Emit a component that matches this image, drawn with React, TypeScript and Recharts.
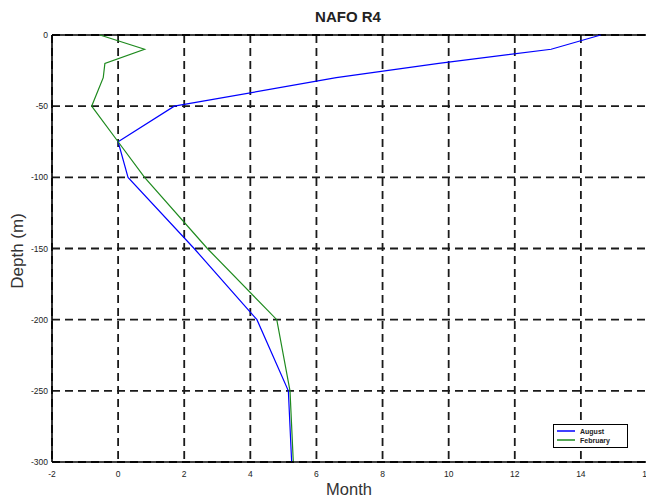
import React from 'react';
import { LineChart, Line, XAxis, YAxis, CartesianGrid, ReferenceLine } from 'recharts';

const depths = [0, -10, -20, -30, -50, -75, -100, -150, -200, -250, -300];
const august = [14.6, 13.1, 9.7, 6.6, 1.7, 0, 0.3, 2.3, 4.2, 5.15, 5.25];
const february = [-0.55, 0.8, -0.4, -0.45, -0.8, 0, 0.8, 2.7, 4.8, 5.2, 5.3];
const xTicks = [-2, 0, 2, 4, 6, 8, 10, 12, 14, 16];
const yTicks = [0, -50, -100, -150, -200, -250, -300];
const seriesNames = ['August', 'February'];
const seriesColors = ['#0000ff', '#1e8a1e'];

const data = depths.map((d, i) => ({ depth: d, August: august[i], February: february[i] }));

const font = 'Liberation Sans, Arial, sans-serif';

export default function App() {
  return (
    <div style={{ position: 'absolute', left: 0, top: 0, width: 646, height: 497, overflow: 'hidden', background: '#fff' }}>
      <LineChart
        width={652}
        height={497}
        data={data}
        layout="vertical"
        margin={{ top: 35, right: 5, bottom: 4, left: 0 }}
      >
        <CartesianGrid stroke="#1a1a1a" strokeDasharray="8 5" strokeWidth={1.8} />
        <XAxis
          type="number"
          domain={[-2, 16]}
          ticks={xTicks}
          interval={0}
          tickLine={false}
          tickSize={0}
          tickMargin={9}
          height={31}
          axisLine={{ stroke: '#000', strokeWidth: 1.6 }}
          tick={{ fontSize: 8.5, fill: '#222', fontFamily: font }}
        />
        <YAxis
          type="number"
          dataKey="depth"
          domain={[-300, 0]}
          reversed
          ticks={yTicks}
          interval={0}
          tickLine={false}
          tickSize={0}
          tickMargin={4}
          width={52}
          axisLine={{ stroke: '#000', strokeWidth: 1.6 }}
          tick={{ fontSize: 8.5, fill: '#222', fontFamily: font }}
        />
        <ReferenceLine y={0} stroke="#000" strokeWidth={1.6} />
        <Line dataKey="August" stroke={seriesColors[0]} strokeWidth={1.2} dot={false} isAnimationActive={false} />
        <Line dataKey="February" stroke={seriesColors[1]} strokeWidth={1.2} dot={false} isAnimationActive={false} />
        <g>
          <rect x={553.5} y={424.5} width={74} height={23} fill="#fff" stroke="#000" strokeWidth={1} />
          {seriesNames.map((n, i) => (
            <g key={n}>
              <line x1={557} x2={575} y1={431 + i * 9} y2={431 + i * 9} stroke={seriesColors[i]} strokeWidth={1.5} />
              <text x={580} y={433.5 + i * 9} fontFamily={font} fontSize={7} fontWeight="bold" fill="#222">
                {n}
              </text>
            </g>
          ))}
        </g>
        <text x={348} y={22} textAnchor="middle" fontFamily={font} fontWeight="bold" fontSize={15} fill="#222">
          NAFO R4
        </text>
        <text x={349} y={495} textAnchor="middle" fontFamily={font} fontSize={16.5} fill="#333">
          Month
        </text>
        <text x={23} y={251} transform="rotate(-90 23 251)" textAnchor="middle" fontFamily={font} fontSize={17} fill="#333">
          Depth (m)
        </text>
      </LineChart>
    </div>
  );
}
